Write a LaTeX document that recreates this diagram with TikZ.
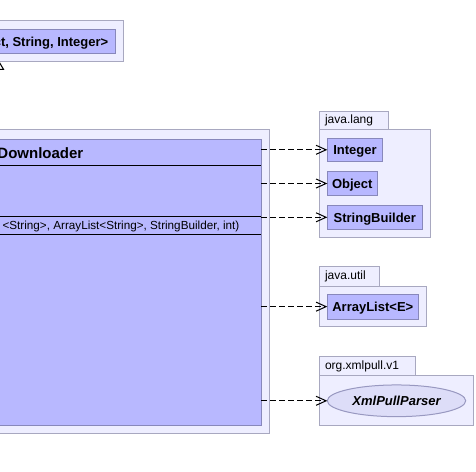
\documentclass[tikz,border=0pt]{standalone}
\usepackage{fontspec}
\setmainfont{Liberation Sans}
\usetikzlibrary{arrows.meta,shapes.geometric}
\definecolor{pkgfill}{HTML}{EEEEFF}
\definecolor{pkgdraw}{HTML}{A8A8C0}
\definecolor{clsfill}{HTML}{B8B8FF}
\definecolor{clsdraw}{HTML}{8888BB}
\definecolor{ifill}{HTML}{DDDDF8}
\definecolor{idraw}{HTML}{9898C0}
\begin{document}
\begin{tikzpicture}[x=1pt,y=-1pt,
  pkg/.style={draw=pkgdraw,fill=pkgfill,line width=1pt},
  cls/.style={draw=clsdraw,fill=clsfill,line width=1pt,inner sep=0pt,outer sep=0pt,
    text depth=0pt,font=\fontsize{13}{15}\selectfont\bfseries},
  iface/.style={ellipse,draw=idraw,fill=ifill,line width=1pt,inner sep=0pt,outer sep=0pt,
    text depth=0pt,font=\fontsize{13}{15}\selectfont\bfseries\itshape},
  tablbl/.style={anchor=west,inner sep=0pt,font=\fontsize{12}{14}\selectfont},
  sep/.style={draw=black,line width=1pt},
  dep/.style={draw=black,line width=1pt,dash pattern=on 6pt off 3pt,
    -{Straight Barb[length=10pt,width=9pt,line width=1pt]}},
  gen/.style={draw=black,line width=1pt,fill=white}]
\useasboundingbox (0,0) rectangle (476,471);
\clip (0,0) rectangle (476,471);
\fill[white] (0,0) rectangle (476,471);

% top package with superclass
\draw[pkg] (-10,20.3) rectangle (123,61.3);
\node[cls,anchor=north west,minimum width=125.7pt,minimum height=24pt] (sup) at (-10,29.3) {};
\node[anchor=east,inner sep=0pt,text depth=0pt,font=\fontsize{13}{15}\selectfont\bfseries] (suptxt) at (108.5,41.8) {AsyncTask<Object, String, Integer>};
\coordinate (genapex) at (-1,61.8);
\draw[gen] (genapex) -- ++(-4.5,7.5) -- ++(9,0) -- cycle;

% main package and class
\draw[pkg] (-10,129.3) rectangle (269,433.3);
\node[cls,anchor=north west,minimum width=271pt,minimum height=286pt] (main) at (-10,139) {};
\node[anchor=east,inner sep=0pt,text depth=0pt,font=\fontsize{15}{17}\selectfont\bfseries] (mainname) at (83.5,153) {Downloader};
\draw[sep] (-10,165.3) -- (261,165.3);
\draw[sep] (-10,216.7) -- (261,216.7);
\draw[sep] (-10,234) -- (261,234);
\node[anchor=east,inner sep=0pt,text depth=0pt,font=\fontsize{11.7}{14}\selectfont] (meth) at (239.5,225.5) {<String>, ArrayList<String>, StringBuilder, int)};

% java.lang
\draw[pkg] (319.3,111.7) rectangle (388.3,129.3);
\draw[pkg] (319.3,129.3) rectangle (430.3,237);
\node[tablbl] (langlbl) at (324.8,120.8) {java.lang};
\node[cls,anchor=north west,minimum width=55.4pt,minimum height=23pt] (integer) at (327.3,138.3) {Integer};
\node[cls,anchor=north west,minimum width=50pt,minimum height=24.4pt] (object) at (327.3,171.3) {Object};
\node[cls,anchor=north west,minimum width=95pt,minimum height=24pt] (sb) at (327.3,205.3) {StringBuilder};

% java.util
\draw[pkg] (319.3,266.7) rectangle (379.3,286);
\draw[pkg] (319.3,286) rectangle (426.3,326.3);
\node[tablbl] (utillbl) at (324.8,276.6) {java.util};
\node[cls,anchor=north west,minimum width=91pt,minimum height=25.3pt] (alist) at (327.3,294) {ArrayList<E>};

% org.xmlpull.v1
\draw[pkg] (319.3,356.7) rectangle (415.3,375.3);
\draw[pkg] (319.3,375.3) rectangle (473.3,425);
\node[tablbl] (xmllbl) at (324.8,366.2) {org.xmlpull.v1};
\node[iface,minimum width=138.4pt,minimum height=31.7pt] (xpp) at (396.5,400.8) {XmlPullParser};

% dependencies
\draw[dep] (main.east |- integer.west) -- (integer.west);
\draw[dep] (main.east |- object.west) -- (object.west);
\draw[dep] (main.east |- sb.west) -- (sb.west);
\draw[dep] (main.east |- alist.west) -- (alist.west);
\draw[dep] (main.east |- xpp.west) -- (xpp.west);
\end{tikzpicture}
\end{document}
